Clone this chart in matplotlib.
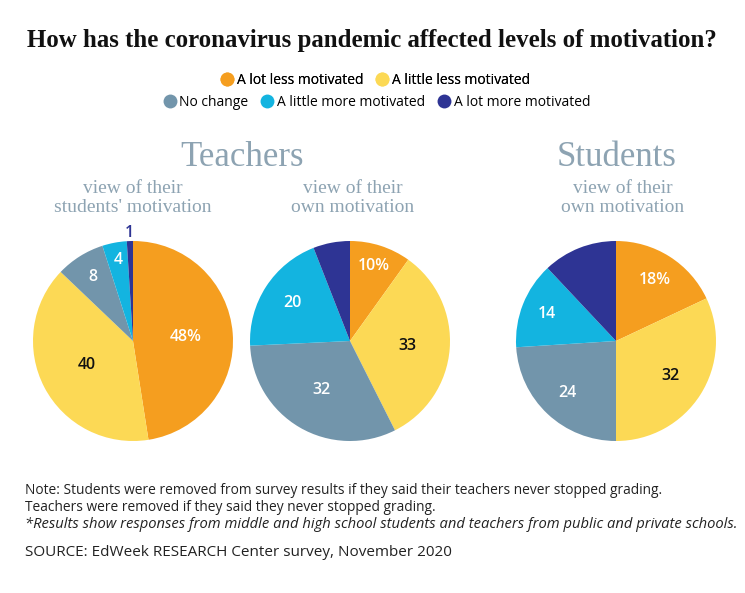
import matplotlib.pyplot as plt
from matplotlib.lines import Line2D
import numpy as np

# --- data ---
categories = ['A lot less motivated', 'A little less motivated', 'No change',
              'A little more motivated', 'A lot more motivated']
colors = ['#F59E1F', '#FCD955', '#7295AB', '#13B4E0', '#2E3494']
label_colors = ['white', '#111111', 'white', 'white', '#2E3494']

teachers_students = [48, 40, 8, 4, 1]
teachers_own = [10, 33, 32, 20, 6]
students_own = [18, 32, 24, 14, 12]

# label distance from centre (fraction of radius), per slice
dist_ts = [0.53, 0.52, 0.76, 0.82, 1.08]
dist_to = [0.79, 0.58, 0.57, 0.69, 0.77]
dist_so = [0.72, 0.65, 0.71, 0.74, 0.73]

W, H = 745, 593
fig = plt.figure(figsize=(W / 100, H / 100), dpi=100)
fig.patch.set_facecolor('white')

sans = ['Open Sans', 'DejaVu Sans']
serif_light = ['Liberation Serif', 'DejaVu Serif']
head_col = '#8DA3B2'


def px(x, y):
    return x / W, 1 - y / H


def draw_pie(cx, cy, r, values, dists):
    ax = fig.add_axes([(cx - r) / W, 1 - (cy + r) / H, 2 * r / W, 2 * r / H])
    wedges, _ = ax.pie(values, colors=colors, startangle=90, counterclock=False,
                       radius=1, wedgeprops=dict(linewidth=0))
    total = float(sum(values))
    start = 90.0
    for i, (v, d) in enumerate(zip(values, dists)):
        mid = start - 360 * v / total / 2
        start -= 360 * v / total
        txt = f'{v}%' if i == 0 else f'{v}'
        ax.text(d * np.cos(np.radians(mid)), d * np.sin(np.radians(mid)), txt,
                ha='center', va='center', fontsize=11.5, fontweight='semibold',
                color=label_colors[i], family=sans)
    ax.set_xlim(-1, 1)
    ax.set_ylim(-1, 1)
    ax.set_aspect('equal')
    ax.axis('off')
    return wedges


draw_pie(133, 341, 100, teachers_students, dist_ts)
draw_pie(350, 341, 100, teachers_own, dist_to)
draw_pie(616, 341, 100, students_own, dist_so)

# --- title (shrink to the reference width) ---
title = fig.text(*px(372, 40), 'How has the coronavirus pandemic affected levels of motivation?',
                 ha='center', va='center', fontsize=16, fontweight='bold',
                 family=['Liberation Serif', 'DejaVu Serif'], color='#111111')
fig.canvas.draw()
tw = title.get_window_extent().width
title.set_fontsize(16 * 693 / tw)

# --- legend (two rows) ---
handles = [Line2D([], [], marker='o', linestyle='none', markersize=10,
                  markerfacecolor=c, markeredgewidth=0) for c in colors]
leg1 = fig.legend(handles[:2], categories[:2], loc='center', bbox_to_anchor=px(375, 80),
                  ncol=2, frameon=False, handletextpad=0.15, columnspacing=0.8,
                  handlelength=1.1, prop={'family': sans, 'size': 10})
fig.legend(handles[2:], categories[2:], loc='center', bbox_to_anchor=px(376, 102),
           ncol=3, frameon=False, handletextpad=0.15, columnspacing=0.8,
           handlelength=1.1, prop={'family': sans, 'size': 10})
fig.add_artist(leg1)

# --- group headings ---
fig.text(*px(242, 158), 'Teachers', ha='center', va='center', fontsize=25,
         family=serif_light, color=head_col)
fig.text(*px(617, 158), 'Students', ha='center', va='center', fontsize=25,
         family=serif_light, color=head_col)
for x, s in [(133, "view of their\nstudents' motivation"),
             (353, 'view of their\nown motivation'),
             (623, 'view of their\nown motivation')]:
    fig.text(*px(x, 198), s, ha='center', va='center', fontsize=14,
             family=serif_light, color=head_col, linespacing=1.2)

# --- notes ---
note_col = '#222222'
fig.text(*px(25, 499), 'Note: Students were removed from survey results if they said their '
         'teachers never stopped grading.\nTeachers were removed if they said they never '
         'stopped grading.', ha='left', va='center', fontsize=9.9, family=sans,
         color=note_col, linespacing=1.15)
fig.text(*px(25, 524), '*Results show responses from middle and high school students and '
         'teachers from public and private schools.', ha='left', va='center',
         fontsize=10.6, style='italic', family=sans, color=note_col)
fig.text(*px(25, 552), 'SOURCE: EdWeek RESEARCH Center survey, November 2020',
         ha='left', va='center', fontsize=11.0, family=sans, color=note_col)

fig.savefig('out.png', dpi=100)
